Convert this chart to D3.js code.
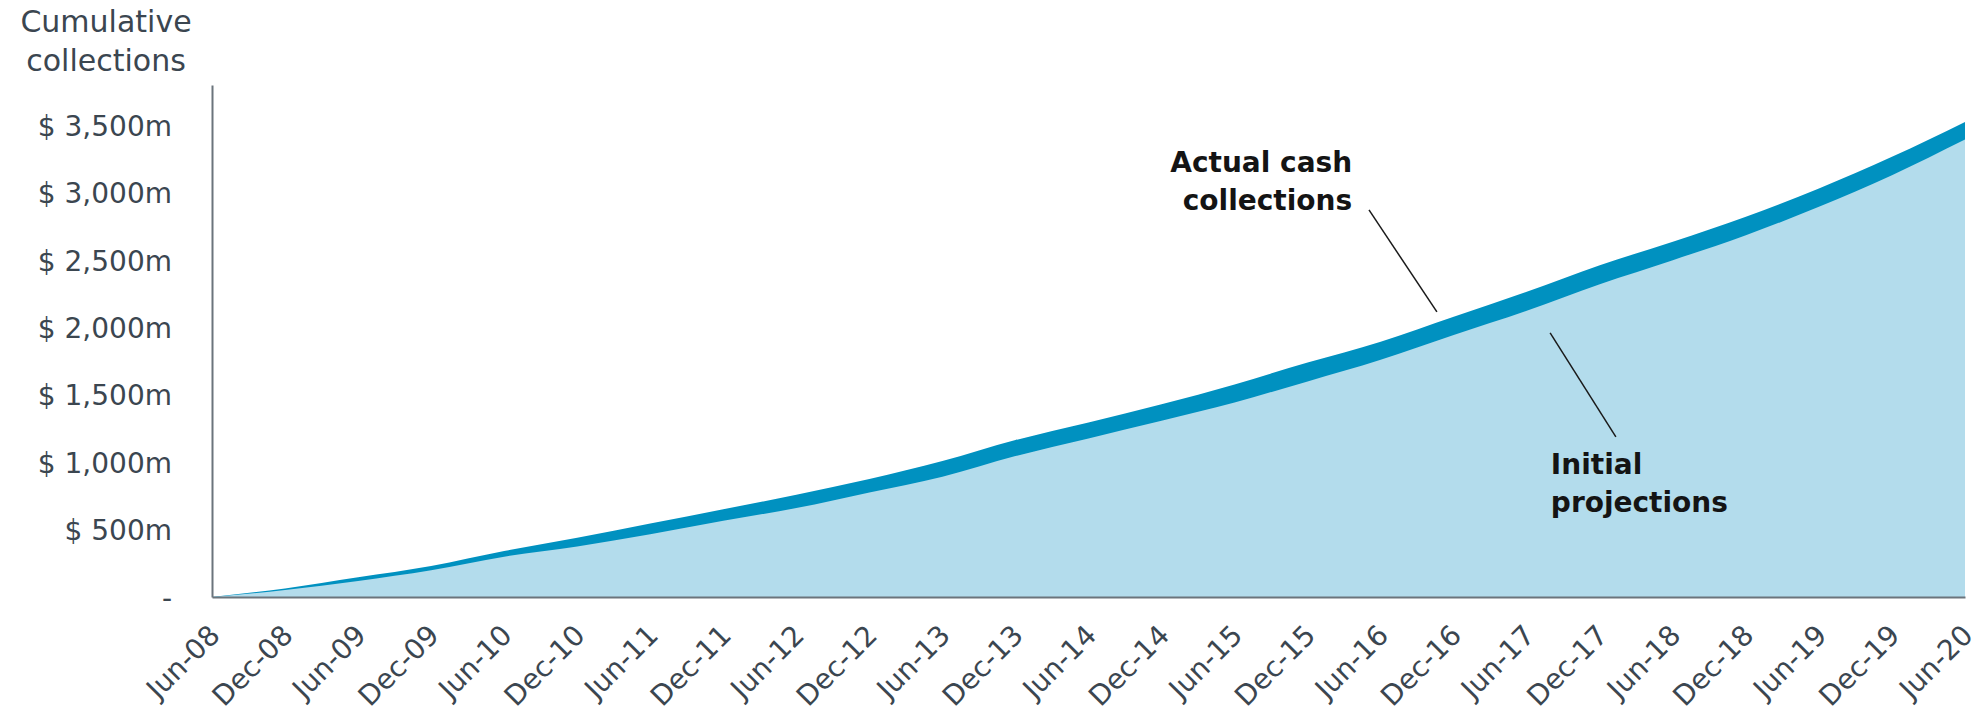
<!DOCTYPE html>
<html>
<head>
<meta charset="utf-8">
<script src="https://cdn.jsdelivr.net/npm/d3@7"></script>
<style>
    body { margin: 0; background: #ffffff; }
    svg { display: block; }
    .axis text { font-family: 'DejaVu Sans', sans-serif; fill: #3b4650; }
    .axis path { stroke: #6b747c; stroke-width: 2; }
    .note { font-family: 'DejaVu Sans', sans-serif; font-weight: 700; font-size: 28px; fill: #141414; }
</style>
</head>
<body>
<div id="chart"></div>
<script>
// half-yearly periods, Jun-08 .. Jun-20
const periods = [
    'Jun-08', 'Dec-08', 'Jun-09', 'Dec-09', 'Jun-10', 'Dec-10', 'Jun-11', 'Dec-11',
    'Jun-12', 'Dec-12', 'Jun-13', 'Dec-13', 'Jun-14', 'Dec-14', 'Jun-15', 'Dec-15',
    'Jun-16', 'Dec-16', 'Jun-17', 'Dec-17', 'Jun-18', 'Dec-18', 'Jun-19', 'Dec-19', 'Jun-20'
];

// cumulative collections, $m
const actualCash = [
    0, 64, 146, 230, 341, 440, 545, 652, 758, 875, 1009, 1165, 1296,
    1430, 1578, 1740, 1895, 2080, 2265, 2463, 2636, 2822, 3032, 3267, 3526
];
const initialProjections = [
    0, 52, 119, 198, 299, 375, 465, 566, 660, 776, 893, 1046, 1177,
    1308, 1444, 1600, 1760, 1944, 2124, 2322, 2500, 2685, 2896, 3131, 3395
];

const yTicks = [0, 500, 1000, 1500, 2000, 2500, 3000, 3500];
const Y_MAX = 3800;

const ACTUAL_FILL = '#0091c0';
const PROJ_FILL = '#b3dcec';

const width = 1983;
const height = 718;
const margin = { top: 85, right: 18, bottom: 121, left: 212 };
const plotW = width - margin.left - margin.right;
const plotH = height - margin.top - margin.bottom;

const svg = d3.select('#chart')
    .append('svg')
    .attr('width', width)
    .attr('height', height);

const g = svg.append('g')
    .attr('transform', `translate(${margin.left},${margin.top})`);

const x = d3.scalePoint()
    .domain(periods)
    .range([0, plotW])
    .padding(0);

const y = d3.scaleLinear()
    .domain([0, Y_MAX])
    .range([plotH, 0]);

// fractional period index -> x pixel (for the annotations)
const xAt = (i) => i * x.step();

const rows = periods.map((p, i) => ({ p, actual: actualCash[i], proj: initialProjections[i] }));

const areaOf = (key) => d3.area()
    .x((d) => x(d.p))
    .y0(y(0))
    .y1((d) => y(d[key]))
    .curve(d3.curveMonotoneX);

g.append('path')
    .datum(rows)
    .attr('fill', ACTUAL_FILL)
    .attr('d', areaOf('actual'));

g.append('path')
    .datum(rows)
    .attr('fill', PROJ_FILL)
    .attr('d', areaOf('proj'));

// axes
const yAxis = g.append('g')
    .attr('class', 'axis')
    .call(d3.axisLeft(y)
        .tickValues(yTicks)
        .tickSize(0)
        .tickPadding(40)
        .tickFormat((v) => (v === 0 ? '-' : `$ ${d3.format(',')(v)}m`)));
yAxis.selectAll('text').attr('font-size', 28).attr('dy', '0.36em');

const xAxis = g.append('g')
    .attr('class', 'axis')
    .attr('transform', `translate(0,${plotH})`)
    .call(d3.axisBottom(x).tickSize(0));
xAxis.selectAll('text')
    .attr('font-size', 28)
    .attr('text-anchor', 'end')
    .attr('dy', 0)
    .attr('y', 0)
    .attr('transform', 'translate(9,40) rotate(-45)');

// y axis title
svg.append('text')
    .attr('class', 'axis-title')
    .attr('x', 106)
    .attr('text-anchor', 'middle')
    .attr('font-family', "'DejaVu Sans', sans-serif")
    .attr('font-size', 30)
    .attr('fill', '#3b4650')
    .selectAll('tspan')
    .data(['Cumulative', 'collections'])
    .join('tspan')
    .attr('x', 106)
    .attr('y', (d, i) => 32 + i * 39)
    .text((d) => d);

// annotations: leader lines placed in data space (period index, $m)
const leaders = [
    { i1: 15.84, v1: 2873, i2: 16.77, v2: 2116 },
    { i1: 18.32, v1: 1960, i2: 19.22, v2: 1188 }
];
g.selectAll('line.leader')
    .data(leaders)
    .join('line')
    .attr('class', 'leader')
    .attr('x1', (d) => xAt(d.i1))
    .attr('y1', (d) => y(d.v1))
    .attr('x2', (d) => xAt(d.i2))
    .attr('y2', (d) => y(d.v2))
    .attr('stroke', '#1a1a1a')
    .attr('stroke-width', 1.5);

const notes = [
    { lines: ['Actual cash', 'collections'], i: 15.61, v: 3155, anchor: 'end' },
    { lines: ['Initial', 'projections'], i: 18.33, v: 913, anchor: 'start' }
];
notes.forEach((n) => {
    g.append('text')
        .attr('class', 'note')
        .attr('text-anchor', n.anchor)
        .selectAll('tspan')
        .data(n.lines)
        .join('tspan')
        .attr('x', xAt(n.i))
        .attr('y', (d, k) => y(n.v) + k * 38)
        .text((d) => d);
});
</script>
</body>
</html>
